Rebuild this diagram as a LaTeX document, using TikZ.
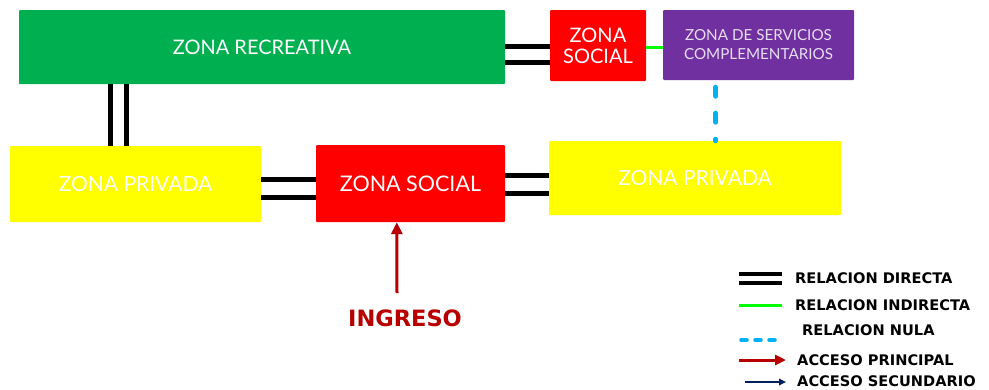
\documentclass[tikz,border=0pt]{standalone}
\usepackage{fontspec}
\setmainfont{Lato}
\newfontfamily\legfont{DejaVu Sans}
\usetikzlibrary{arrows.meta}
\definecolor{cgreen}{HTML}{00B050}
\definecolor{cred}{HTML}{FF0000}
\definecolor{cpurple}{HTML}{7030A0}
\definecolor{cyellow}{HTML}{FFFF00}
\definecolor{cdarkred}{HTML}{B80000}
\definecolor{cblue}{HTML}{00B0F0}
\definecolor{cnavy}{HTML}{002060}
\definecolor{clime}{HTML}{00FF00}
\definecolor{clav}{HTML}{E6DDF0}
\tikzset{
  zone/.style={draw=none, rounded corners=1pt, inner sep=0pt, text=white, align=center, font=\fontsize{20}{22}\selectfont},
  dline/.style={line width=5pt, black},
  gline/.style={line width=3pt, clime},
  nline/.style={line width=5pt, cblue, dash pattern=on 9pt off 17pt, line cap=round},
  mainarr/.style={line width=3pt, cdarkred, -{Triangle[length=12pt,width=11pt]}},
  secarr/.style={line width=1.8pt, cnavy, -{Triangle[length=7pt,width=6.5pt]}},
  legtext/.style={anchor=west, inner sep=0pt, font=\legfont\bfseries\fontsize{14.6}{15}\selectfont}
}
\begin{document}
\begin{tikzpicture}[x=1pt,y=-1pt]
\useasboundingbox (0,0) rectangle (989,389);
% zones
\node[zone, fill=cgreen, minimum width=486pt, minimum height=74pt] (rec) at (262,47) {ZONA RECREATIVA};
\node[zone, fill=cred, minimum width=96pt, minimum height=71pt] (soca) at (598,45.5) {ZONA\\[-1pt]SOCIAL};
\node[zone, fill=cpurple, text=clav, minimum width=191pt, minimum height=70pt, font=\fontsize{15.2}{19}\selectfont] (serv) at (758.5,45) {ZONA DE SERVICIOS\\COMPLEMENTARIOS};
\node[zone, fill=cyellow, minimum width=251pt, minimum height=76pt, font=\fontsize{21}{22}\selectfont] (priva) at (135.5,184) {ZONA PRIVADA};
\node[zone, fill=cred, minimum width=189pt, minimum height=77pt, font=\fontsize{21.5}{22}\selectfont] (socb) at (410.5,183.5) {ZONA SOCIAL};
\node[zone, fill=cyellow, minimum width=292pt, minimum height=74pt, font=\fontsize{21}{22}\selectfont] (privb) at (695,178) {ZONA PRIVADA};
\node[inner sep=0pt, text=cdarkred, font=\legfont\bfseries\fontsize{22.5}{24}\selectfont] (ing) at (405,318) {INGRESO};
% connectors
\path ([yshift=-37pt]rec.north east) coordinate (r1) ([yshift=-53pt]rec.north east) coordinate (r2);
\draw[dline] (r1) -- (r1 -| soca.west);
\draw[dline] (r2) -- (r2 -| soca.west);
\path ([yshift=-38pt]soca.north east) coordinate (g1);
\draw[gline] (g1) -- (g1 -| serv.west);
\path ([xshift=53pt,yshift=-7pt]serv.south west) coordinate (n1);
\draw[nline] (n1) -- (n1 |- privb.north);
\path ([xshift=92pt]rec.south west) coordinate (v1) ([xshift=108pt]rec.south west) coordinate (v2);
\draw[dline] (v1) -- (v1 |- priva.north);
\draw[dline] (v2) -- (v2 |- priva.north);
\path ([yshift=-34pt]priva.north east) coordinate (h1) ([yshift=-52pt]priva.north east) coordinate (h2);
\draw[dline] (h1) -- (h1 -| socb.west);
\draw[dline] (h2) -- (h2 -| socb.west);
\path ([yshift=-31pt]socb.north east) coordinate (k1) ([yshift=-49pt]socb.north east) coordinate (k2);
\draw[dline] (k1) -- (k1 -| privb.west);
\draw[dline] (k2) -- (k2 -| privb.west);
\path ([xshift=81pt]socb.south west) coordinate (ia);
\coordinate (iastart) at (397,293);
\draw[mainarr] (iastart) -- (ia);
% legend
\coordinate (l1a) at (739,274); \coordinate (l1b) at (782,274);
\coordinate (l2a) at (739,283); \coordinate (l2b) at (782,283);
\draw[line width=3.5pt] (l1a) -- (l1b);
\draw[line width=3.5pt] (l2a) -- (l2b);
\node[legtext] (t1) at (795,278) {RELACION DIRECTA};
\coordinate (l3a) at (739,305); \coordinate (l3b) at (782,305);
\draw[line width=3pt, clime] (l3a) -- (l3b);
\node[legtext] (t2) at (795,305) {RELACION INDIRECTA};
\coordinate (l4a) at (741,340); \coordinate (l4b) at (782,340);
\draw[line width=3.5pt, cblue, dash pattern=on 6pt off 8pt, line cap=round] (l4a) -- (l4b);
\node[legtext] (t3) at (802,330) {RELACION NULA};
\coordinate (l5a) at (739,360); \coordinate (l5b) at (786,360);
\draw[line width=3pt, cdarkred, -{Triangle[length=11pt,width=10pt]}] (l5a) -- (l5b);
\node[legtext] (t4) at (797,360) {ACCESO PRINCIPAL};
\coordinate (l6a) at (745,382); \coordinate (l6b) at (786,382);
\draw[secarr] (l6a) -- (l6b);
\node[legtext] (t5) at (797,381) {ACCESO SECUNDARIO};
\end{tikzpicture}
\end{document}
